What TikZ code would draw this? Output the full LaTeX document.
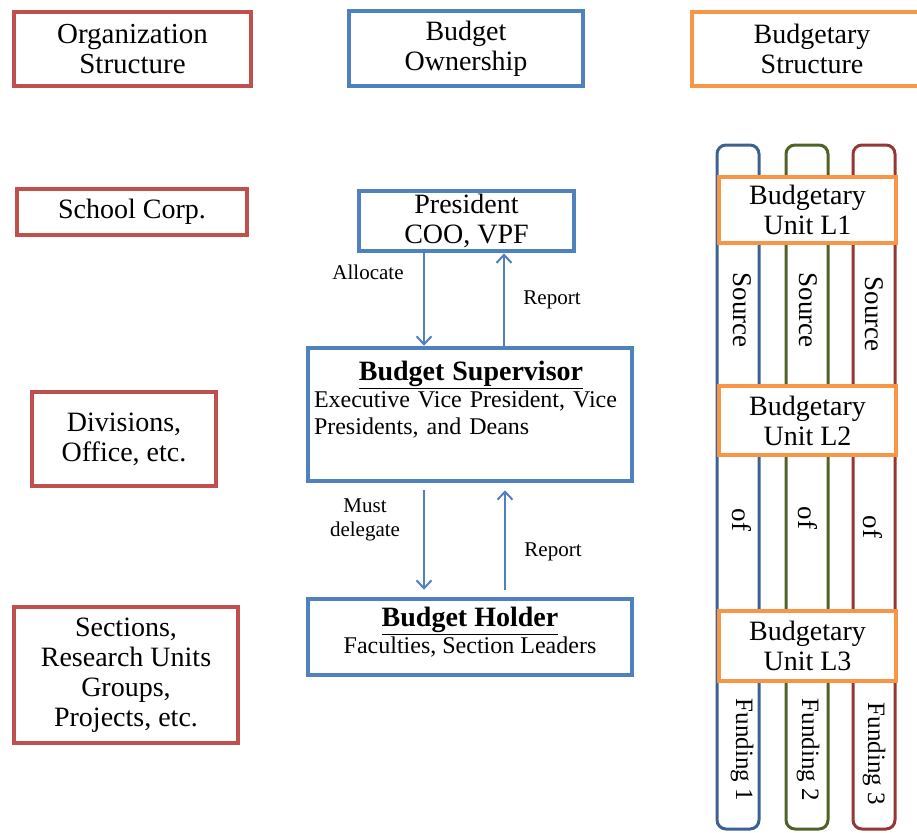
\documentclass[tikz,border=0pt]{standalone}
\usepackage{fontspec}
\setmainfont{Liberation Serif}
\usetikzlibrary{arrows.meta,positioning,calc}
\definecolor{orgred}{HTML}{C0504D}
\definecolor{ownblue}{HTML}{4F81BD}
\definecolor{unitorange}{HTML}{F79646}
\definecolor{srcblue}{HTML}{3B6291}
\definecolor{srcgreen}{HTML}{4F6228}
\definecolor{srcred}{HTML}{953735}
\tikzset{
  >={Straight Barb[length=8pt,width=15pt]},
  orgbox/.style   = {rectangle, draw=orgred, line width=4.5pt, align=center, fill=white, font=\fontsize{28}{30}\selectfont},
  ownbox/.style   = {rectangle, draw=ownblue, line width=4.5pt, align=center, fill=white, font=\fontsize{24}{27}\selectfont},
  unitbox/.style  = {rectangle, draw=unitorange, line width=4.5pt, align=center, fill=white, font=\fontsize{28}{30}\selectfont},
  srccol/.style   = {rectangle, rounded corners=9pt, line width=3pt, minimum width=42pt, minimum height=684pt},
  colnote/.style  = {rotate=-90, font=\fontsize{27}{30}\selectfont},
  flow/.style     = {->, draw=ownblue, line width=2pt},
  flowlabel/.style= {align=center, font=\fontsize{21}{24}\selectfont}
}

\begin{document}
\begin{tikzpicture}[x=1pt, y=-1pt]
\useasboundingbox (0,0) rectangle (917,832);

% Headings
\node[orgbox, minimum width=237, minimum height=74, font=\fontsize{29}{30}\selectfont] (orghead) at (132.5,49) {Organization\\Structure};
\node[ownbox, minimum width=234, minimum height=75, font=\fontsize{28}{30}\selectfont] (ownhead) at (466,48.5) {Budget\\Ownership};
\node[unitbox, minimum width=240, minimum height=74] (unithead) at (812,49) {Budgetary\\Structure};

% Organization structure
\node[orgbox, minimum width=230, minimum height=46] (corp) at (132,212) {School Corp.};
\node[orgbox, minimum width=184, minimum height=94] (division) at (124,439) {Divisions,\\Office, etc.};
\node[orgbox, minimum width=224, minimum height=136] (section) at (126,675) {Sections,\\Research Units\\Groups,\\Projects, etc.};

% Budget ownership
\node[ownbox, minimum width=215, minimum height=58, font=\fontsize{28}{30}\selectfont] (pres) at (466.5,221) {President\\COO, VPF};
\node[ownbox, minimum width=324, minimum height=133] (sup) at (470,414.5) {};
\node[anchor=north, text width=314pt, align=left, font=\fontsize{24}{27}\selectfont] (suptext) at (471,358)
  {\makebox[314pt]{\fontsize{28}{30}\selectfont\underline{\textbf{Budget Supervisor}}}\\Executive Vice President, Vice\\Presidents, and Deans};
\node[ownbox, minimum width=324, minimum height=76] (hold) at (470,637) {\fontsize{28}{30}\selectfont\underline{\textbf{Budget Holder}}\\Faculties, Section Leaders\\[-14pt]};

% Budgetary structure
\node[srccol, draw=srcblue] (col1) at (738,487) {};
\node[srccol, draw=srcgreen] (col2) at (807,487) {};
\node[srccol, draw=srcred] (col3) at (874,487) {};

\node[colnote] (src1) at (742,310) {Source};
\node[colnote] (src2) at (808,310) {Source};
\node[colnote] (src3) at (874,314) {Source};
\node[colnote] (of1) at (742,520) {of};
\node[colnote] (of2) at (808,518) {of};
\node[colnote] (of3) at (873,527) {of};
\node[colnote, font=\fontsize{25}{28}\selectfont] (fund1) at (742,750) {Funding 1};
\node[colnote, font=\fontsize{25}{28}\selectfont] (fund2) at (808,750) {Funding 2};
\node[colnote, font=\fontsize{25}{28}\selectfont] (fund3) at (874,754) {Funding 3};

\node[unitbox, minimum width=177, minimum height=66] (unit1) at (807.5,210) {Budgetary\\Unit L1};
\node[unitbox, minimum width=177, minimum height=69] (unit2) at (807.5,420.5) {Budgetary\\Unit L2};
\node[unitbox, minimum width=177, minimum height=70] (unit3) at (807.5,646) {Budgetary\\Unit L3};

% Connections
\draw[flow] ([xshift=-42.5]pres.south) -- ([xshift=-42.5]pres.south |- sup.north);
\draw[flow] ([xshift=37.5]pres.south |- sup.north) -- ([xshift=37.5]pres.south);
\draw[flow, shorten <=7pt, shorten >=7pt] ([xshift=-46]sup.south) -- ([xshift=-46]sup.south |- hold.north);
\draw[flow, shorten <=7pt, shorten >=7pt] ([xshift=35]sup.south |- hold.north) -- ([xshift=35]sup.south);

\node[flowlabel] (alloc) at (368,272) {Allocate};
\node[flowlabel] (rep1) at (552,300) {Report};
\node[flowlabel] (deleg) at (365,520) {Must\\delegate};
\node[flowlabel] (rep2) at (553,552) {Report};

\end{tikzpicture}
\end{document}
